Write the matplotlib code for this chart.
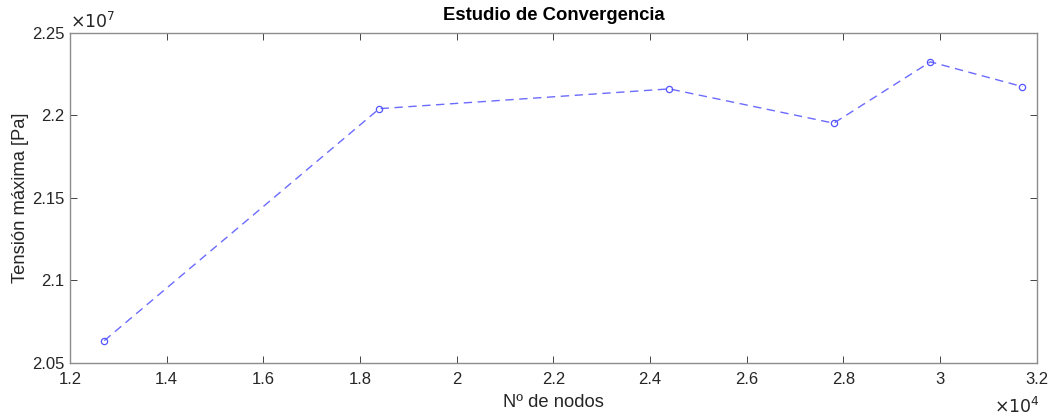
import matplotlib.pyplot as plt
from matplotlib.ticker import FuncFormatter


# ======================================================
# Data
# ======================================================

nNodes = [12710, 18400, 24400, 27800, 29800, 31700]

maxStress = [2.0634e7, 2.2041e7, 2.2161e7, 2.1953e7, 2.2325e7, 2.2175e7]

xTicks = [1.2, 1.4, 1.6, 1.8, 2.0, 2.2, 2.4, 2.6, 2.8, 3.0, 3.2]
yTicks = [2.05, 2.1, 2.15, 2.2, 2.25]


# ======================================================
# Figure
# ======================================================

plt.rcParams['font.family'] = ['Liberation Sans', 'DejaVu Sans']

axColor = '#262626'

fig = plt.figure(figsize=(10.52, 4.16), dpi=100)
ax = fig.add_axes([0.0665, 0.128, 0.9190, 0.7927])

ax.plot(nNodes, maxStress, linestyle=(0, (6, 4)), color='#6b6bff',
        linewidth=1.0, marker='o', markersize=4.5,
        markerfacecolor='none', markeredgecolor='#5555ff',
        markeredgewidth=0.9)

ax.set_xlim(1.2e4, 3.2e4)
ax.set_ylim(2.05e7, 2.25e7)

ax.set_xticks([t * 1e4 for t in xTicks])
ax.set_yticks([t * 1e7 for t in yTicks])

ax.xaxis.set_major_formatter(FuncFormatter(lambda v, p: f"{v/1e4:g}"))
ax.yaxis.set_major_formatter(FuncFormatter(lambda v, p: f"{v/1e7:g}"))

ax.tick_params(direction='in', length=5, width=0.6, colors=axColor,
               labelsize=12, top=True, right=True, pad=4)
ax.tick_params(axis='x', pad=7)

for s in ax.spines.values():
    s.set_color('#8c8c8c')
    s.set_linewidth(1.0)

ax.set_title("Estudio de Convergencia", fontsize=13.3, fontweight='bold',
             color='black', pad=9)
ax.set_xlabel("Nº de nodos", fontsize=13.2, color=axColor, labelpad=5)
ax.set_ylabel("Tensión máxima [Pa]", fontsize=13.2, color=axColor, labelpad=2)

# exponent labels, MATLAB style
ax.text(0.0, 1.005, r"$\times10^{7}$", transform=ax.transAxes,
        fontsize=12.5, color=axColor, ha='left', va='bottom',
        math_fontfamily='dejavusans')
ax.text(1.003, -0.102, r"$\times10^{4}$", transform=ax.transAxes,
        fontsize=12.5, color=axColor, ha='right', va='top',
        math_fontfamily='dejavusans')

fig.savefig("out.png", dpi=100)
